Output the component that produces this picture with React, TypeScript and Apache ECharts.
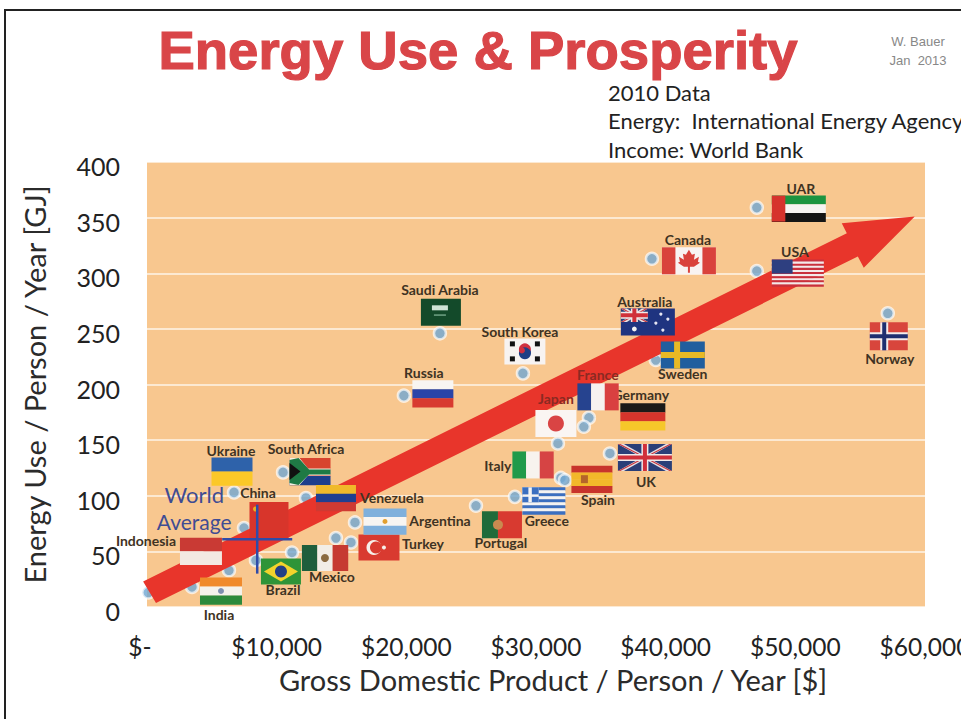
import React, { useEffect, useRef } from "react";
import * as echarts from "echarts";

const countries = ["India","Indonesia","China","Ukraine","South Africa","Venezuela","Brazil","Mexico","Turkey","Argentina","South Korea","Japan","France","Germany","UK","Italy","Spain","Greece","Portugal","Sweden","Australia","UAR","Canada","USA","Norway","Saudi Arabia","Russia"];
const gdpPerPerson = [3470,6320,7480,6710,10490,12260,11180,14570,15730,16040,28990,31690,34080,33690,35700,31920,32230,28370,25370,39240,39090,47030,38940,47030,57130,22590,19810];
const energyPerPerson = [18,33,71,103,121,98,49,62,58,76,210,147,170,162,138,116,114,99,91,222,231,359,313,302,264,246,190];
const unlabeledGdp = [100,8400];
const unlabeledEnergy = [13,42];
const worldAverage = [8500,61];
const worldSpread = [2700,31];
const xTicks = ["$-","$10,000","$20,000","$30,000","$40,000","$50,000","$60,000"];
const arrowGdp = [694,-300,53970,53580,59210,55280,54820];
const arrowEnergy = [3.6,23,336,345,351,305,315];

// layout: flag centre offset, flag size, label offset (pixels from the country's point)
const layout: Record<string, number[]> = {
  India:[29,4,42,27,27,28], Indonesia:[-28,-19,42,27,-83,-30], China:[25,-7,39,38,14,-36],
  Ukraine:[-2,-21,41,28,-3,-42], "South Africa":[27,-1,41,27,23,-24], Venezuela:[30,0,40,26,86,0],
  Brazil:[-11,19,40,26,-9,37], Mexico:[-11,20,46,26,-4,38], Turkey:[28,5,41,26,72,1],
  Argentina:[30,-1,43,26,85,-2], "South Korea":[2,-22,41,26,-3,-42], Japan:[-2,-20,41,27,-2,-45],
  France:[9,-21,41,27,9,-43], Germany:[59,-10,45,27,57,-32], UK:[35,4,54,27,36,28],
  Italy:[-28,-13,41,27,-63,-12], Spain:[27,-1,41,27,33,19], Greece:[29,4,43,27,32,24],
  Portugal:[26,19,40,27,25,37], Sweden:[27,-5,44,27,27,13], Australia:[-6,-28,54,27,-9,-49],
  UAR:[42,1,54,26,44,-19], Canada:[37,2,54,27,36,-19], USA:[41,2,52,27,38,-20],
  Norway:[1,23,38,28,2,45], "Saudi Arabia":[1,-21,40,27,0,-44], Russia:[29,-2,41,27,20,-23],
};

const rect = (x: number, y: number, w: number, h: number, fill: string) => ({ type: "rect", shape: { x, y, width: w, height: h }, style: { fill } });
const circ = (cx: number, cy: number, r: number, fill: string) => ({ type: "circle", shape: { cx, cy, r }, style: { fill } });
const poly = (points: number[][], fill: string) => ({ type: "polygon", shape: { points }, style: { fill } });
const hs = (w: number, h: number, cols: string[]) => cols.map((c, i) => rect(-w / 2, -h / 2 + (i * h) / cols.length, w, h / cols.length + 0.3, c));
const vs = (w: number, h: number, cols: string[]) => cols.map((c, i) => rect(-w / 2 + (i * w) / cols.length, -h / 2, w / cols.length + 0.3, h, c));
const diag = (w: number, h: number, t: number, fill: string) => [
  poly([[-w/2, -h/2], [-w/2 + t, -h/2], [w/2, h/2], [w/2 - t, h/2]], fill),
  poly([[w/2, -h/2], [w/2 - t, -h/2], [-w/2, h/2], [-w/2 + t, h/2]], fill),
];
const cross = (w: number, h: number, cx: number, t: number, fill: string) => [rect(-w/2 + cx - t/2, -h/2, t, h, fill), rect(-w/2, -t/2, w, t, fill)];
const union = (w: number, h: number) => [rect(-w/2, -h/2, w, h, "#2A3F78"), ...diag(w, h, 6, "#E6E0E4"), ...diag(w, h, 2.4, "#C8343C"), ...cross(w, h, w/2, 7, "#EFEAEA"), ...cross(w, h, w/2, 4, "#D0303A")];

const flagParts = (name: string, w: number, h: number): any[] => {
  const R = "#D9423C", G = "#0F8A45";
  switch (name) {
    case "India": return [...hs(w,h,["#F08A2C","#F5F2EC","#2C8A3C"]), circ(0,0,3,"#7F8FB0")];
    case "Indonesia": return hs(w,h,["#C93A34","#F3E9E2"]);
    case "China": return [rect(-w/2,-h/2,w,h,"#D8352B"), circ(-w/2+6,-h/2+7,2.5,"#E8B020")];
    case "Ukraine": return hs(w,h,["#2E62AA","#FBC828"]);
    case "South Africa": return [...hs(w,h,["#D8442F","#D8442F","#1E3E8C"]), poly([[-w/2,-h/2],[-w/2+10,-h/2],[-2,-3],[w/2,-3],[w/2,4],[-2,4],[-w/2+10,h/2],[-w/2,h/2]],"#F3EEE0"), poly([[-w/2,-h/2+2],[-w/2+9,-h/2],[-1,-2],[w/2,-2],[w/2,3],[-1,3],[-w/2+9,h/2],[-w/2,h/2-2]],"#1F7A45"), poly([[-w/2,-h/2+5],[-w/2+11,0],[-w/2,h/2-5]],"#111")];
    case "Venezuela": return hs(w,h,["#F0B92A","#1F3F90","#CF3A32"]);
    case "Brazil": return [rect(-w/2,-h/2,w,h,"#2F9438"), poly([[0,-h/2+3],[w/2-3,0],[0,h/2-3],[-w/2+3,0]],"#F2D32C"), circ(0,0,6,"#233F85")];
    case "Mexico": return [...vs(w,h,["#1F5E3C","#F2EDE6","#C63A32"]), circ(0,0,4,"#8A6A40")];
    case "Turkey": return [rect(-w/2,-h/2,w,h,"#D93A30"), circ(-5,0,7.5,"#F6EFE9"), circ(-3,0,6,"#D93A30"), circ(5,0,2,"#F6EFE9")];
    case "Argentina": return [...hs(w,h,["#7FB0DC","#F7F5F2","#7FB0DC"]), circ(0,0,2.5,"#E2A030")];
    case "South Korea": return [rect(-w/2,-h/2,w,h,"#F7F3F1"), circ(0,-2,6,"#CF3040"), circ(0,2,6,"#1F3F85"), circ(-3,-1,3,"#CF3040"), circ(3,1,3,"#1F3F85"), rect(-15,-10,5,5,"#111"), rect(10,-10,5,5,"#111"), rect(-15,5,5,5,"#111"), rect(10,5,5,5,"#111")];
    case "Japan": return [rect(-w/2,-h/2,w,h,"#FAF5F2"), circ(0,0,8,"#D94444")];
    case "France": return vs(w,h,["#26438F","#F6F2F0","#D94040"]);
    case "Germany": return hs(w,h,["#1B1A18","#D5352C","#F6C72A"]);
    case "UK": return [...union(w,h)];
    case "Italy": return vs(w,h,["#1F9A4A","#F7F3EE","#D64444"]);
    case "Spain": return [...hs(w,h,["#C8342C","#F2B82A","#F2B82A","#C8342C"]), rect(-11,-4,7,8,"#B5652A")];
    case "Greece": { const cols = ["#3B6FC0","#F4F3F2","#3B6FC0","#F4F3F2","#3B6FC0","#F4F3F2","#3B6FC0","#F4F3F2","#3B6FC0"]; return [...hs(w,h,cols), rect(-w/2,-h/2,w*0.38,h*0.55,"#F4F3F2"), rect(-w/2,-h/2,w*0.38,h*0.26,"#3B6FC0"), rect(-w/2,-h/2+h*0.35,w*0.38,h*0.2,"#3B6FC0"), rect(-w/2+w*0.14,-h/2,w*0.08,h*0.55,"#F4F3F2")]; }
    case "Portugal": return [rect(-w/2,-h/2,w*0.4,h,"#1F6B3A"), rect(-w/2+w*0.4,-h/2,w*0.6,h,"#D83A30"), circ(-w/2+w*0.4,0,5,"#C98A50")];
    case "Sweden": return [rect(-w/2,-h/2,w,h,"#215E9E"), ...cross(w,h,w*0.37,6,"#E8B925")];
    case "Australia": return [rect(-w/2,-h/2,w,h,"#1F3480"), { type: "group", x: -w/4, y: -h/4, children: union(w/2,h/2) }, circ(-w/4,7,2.4,"#F2F2F2"), circ(13,-8,1.6,"#E6E6F2"), circ(20,-3,1.6,"#E6E6F2"), circ(8,1,1.6,"#E6E6F2"), circ(15,8,1.6,"#E6E6F2")];
    case "UAR": return [...hs(w,h,["#1C9440","#F7F4F2","#151515"]), rect(-w/2,-h/2,w*0.25,h,"#D6332D")];
    case "Canada": return [...[rect(-w/2,-h/2,w,h,"#F8F3F2"), rect(-w/2,-h/2,w*0.25,h,R), rect(w/4,-h/2,w*0.25,h,R)], poly([[0,-11],[3,-6],[6,-7],[5,-1],[10,-4],[9,1],[11,2],[5,6],[1,6],[1,12],[-1,12],[-1,6],[-5,6],[-11,2],[-9,1],[-10,-4],[-5,-1],[-6,-7],[-3,-6]],R)];
    case "USA": { const st = ["0","1","2","3","4","5","6","7","8","9","10","11","12"].map((s) => (Number(s) % 2 ? "#F3E9EA" : "#C9303C")); return [...hs(w,h,st), rect(-w/2,-h/2,w*0.4,h*0.52,"#2E3F80")]; }
    case "Norway": return [rect(-w/2,-h/2,w,h,"#D8453C"), ...cross(w,h,w*0.38,8,"#F3ECEA"), ...cross(w,h,w*0.38,4,"#1E2F70")];
    case "Saudi Arabia": return [rect(-w/2,-h/2,w,h,"#134A2A"), rect(-9,-7,16,5,"#CFE4D6"), rect(-7,2,12,1.5,"#6FA285")];
    case "Russia": return hs(w,h,["#F8F5F2","#2A44A8","#D83A30"]);
    default: return [rect(-w/2,-h/2,w,h,G)];
  }
};

const rows = countries.map((c, i) => [gdpPerPerson[i], energyPerPerson[i], c]);
const labelColor = (n: string) => (n === "Japan" || n === "France" ? "#8A2A22" : "#3F3323");

export default function App() {
  const ref = useRef<HTMLDivElement>(null);
  useEffect(() => {
    const chart = echarts.init(ref.current!, null, { renderer: "svg" });
    const font = "Lato";
    chart.setOption({
      animation: false,
      backgroundColor: "#fff",
      grid: { left: 147, right: 36, top: 162, bottom: 112, show: true, backgroundColor: "#F8C78F", borderWidth: 0, outerBoundsMode: "none" },
      xAxis: {
        type: "value", min: 0, max: 60000, interval: 10000,
        name: "Gross Domestic Product / Person / Year [$]", nameLocation: "middle", nameGap: 58,
        nameTextStyle: { fontFamily: font, fontSize: 29, color: "#2b2b2b", padding: [0, 0, 0, 34] },
        axisLine: { show: false }, axisTick: { show: false }, splitLine: { show: false },
        axisLabel: { margin: 27, fontFamily: font, fontSize: 24.5, color: "#222",
          formatter: (_v: number, i: number) => (i === 0 ? "{a|" + xTicks[0] + "}" : xTicks[i]),
          rich: { a: { fontFamily: font, fontSize: 24.5, color: "#222", padding: [0, 14, 0, 0] } } },
      },
      yAxis: {
        type: "value", min: 0, max: 400, interval: 50,
        name: "Energy Use / Person / Year [GJ]", nameLocation: "middle", nameGap: 98,
        nameTextStyle: { fontFamily: font, fontSize: 29, color: "#2b2b2b" },
        axisLine: { show: false }, axisTick: { show: false },
        splitLine: { show: true, lineStyle: { color: "rgba(255,255,255,0.6)", width: 2 } },
        axisLabel: { margin: 27, color: "#222",
          formatter: (v: number) => "{a|" + v + "}",
          rich: { a: { fontFamily: font, fontSize: 25, color: "#222", padding: [8, 0, 0, 0] } } },
      },
      series: [
        {
          type: "scatter", z: 2, symbolSize: 12,
          itemStyle: { color: "#6FA6D2", borderColor: "rgba(255,255,255,0.85)", borderWidth: 2.5 },
          data: [...rows.map((r) => [r[0], r[1]]), ...unlabeledGdp.map((g, i) => [g, unlabeledEnergy[i]])],
        },
        {
          type: "custom", z: 3, encode: { x: 0, y: 1 },
          data: arrowGdp.map((g, i) => [g, arrowEnergy[i]]),
          renderItem: (p: any, api: any) => p.dataIndex !== 0 ? null : ({
            type: "polygon",
            shape: { points: arrowGdp.map((g, i) => api.coord([g, arrowEnergy[i]])) },
            style: { fill: "#E8352B" },
          }),
        },
        {
          type: "custom", z: 4, encode: { x: 0, y: 1 }, data: rows,
          renderItem: (p: any, api: any) => {
            const n = countries[p.dataIndex]; const l = layout[n];
            const c = api.coord([api.value(0), api.value(1)]);
            return { type: "text", x: c[0] + l[4], y: c[1] + l[5], style: { text: n, fontFamily: "Lato", fontWeight: 700, fontSize: 14, fill: labelColor(n), align: "center", verticalAlign: "middle" } };
          },
        },
        {
          type: "custom", z: 5, encode: { x: 0, y: 1 }, data: rows,
          renderItem: (p: any, api: any) => {
            const n = countries[p.dataIndex]; const l = layout[n];
            const c = api.coord([api.value(0), api.value(1)]);
            return { type: "group", x: c[0] + l[0], y: c[1] + l[1], children: flagParts(n, l[2], l[3]) };
          },
        },
        {
          type: "custom", z: 6, encode: { x: 0, y: 1 }, data: [worldAverage],
          renderItem: (_p: any, api: any) => {
            const [x, y] = worldAverage; const [ex, ey] = worldSpread;
            const a = api.coord([x - ex, y]), b = api.coord([x + ex, y]), t = api.coord([x, y + ey]), u = api.coord([x, y - ey]), c = api.coord([x, y]);
            const st = { stroke: "#2F4BA8", lineWidth: 2.5 };
            const tx = (s: string, dy: number, fs: number) => ({ type: "text", x: c[0] - 63, y: c[1] + dy, style: { text: s, fontFamily: "Lato", fontSize: fs, fill: "#3F4C93", align: "center", verticalAlign: "middle" } });
            return { type: "group", children: [
              { type: "line", shape: { x1: a[0], y1: a[1], x2: b[0], y2: b[1] }, style: st },
              { type: "line", shape: { x1: t[0], y1: t[1], x2: u[0], y2: u[1] }, style: st },
              tx("World", -45, 22), tx("Average", -18, 21),
            ] };
          },
        },
      ],
      graphic: [
        { type: "line", shape: { x1: 4, y1: 10, x2: 961, y2: 10 }, style: { stroke: "#222", lineWidth: 2 } },
        { type: "line", shape: { x1: 5, y1: 10, x2: 5, y2: 719 }, style: { stroke: "#222", lineWidth: 2 } },
        { type: "text", x: 478, y: 50, style: { text: "Energy Use & Prosperity", fontFamily: "Liberation Sans", fontWeight: 700, fontSize: 54.5, fill: "#D94548", stroke: "#D94548", lineWidth: 1.2, align: "center", verticalAlign: "middle" } },
        { type: "text", x: 918, y: 41, style: { text: "W. Bauer", fontFamily: "Liberation Sans", fontSize: 13, fill: "#888", align: "center", verticalAlign: "middle" } },
        { type: "text", x: 918, y: 60, style: { text: "Jan  2013", fontFamily: "Liberation Sans", fontSize: 13, fill: "#888", align: "center", verticalAlign: "middle" } },
        { type: "text", x: 608, y: 92.5, style: { text: "2010 Data", fontFamily: "Lato", fontSize: 22, fill: "#222", verticalAlign: "middle" } },
        { type: "text", x: 608, y: 120.5, style: { text: "Energy:  International Energy Agency", fontFamily: "Lato", fontSize: 22, fill: "#222", verticalAlign: "middle" } },
        { type: "text", x: 608, y: 149.5, style: { text: "Income: World Bank", fontFamily: "Lato", fontSize: 22, fill: "#222", verticalAlign: "middle" } },
      ],
    });
    return () => chart.dispose();
  }, []);
  return <div ref={ref} style={{ position: "absolute", left: 0, top: 0, width: 961, height: 719 }} />;
}
